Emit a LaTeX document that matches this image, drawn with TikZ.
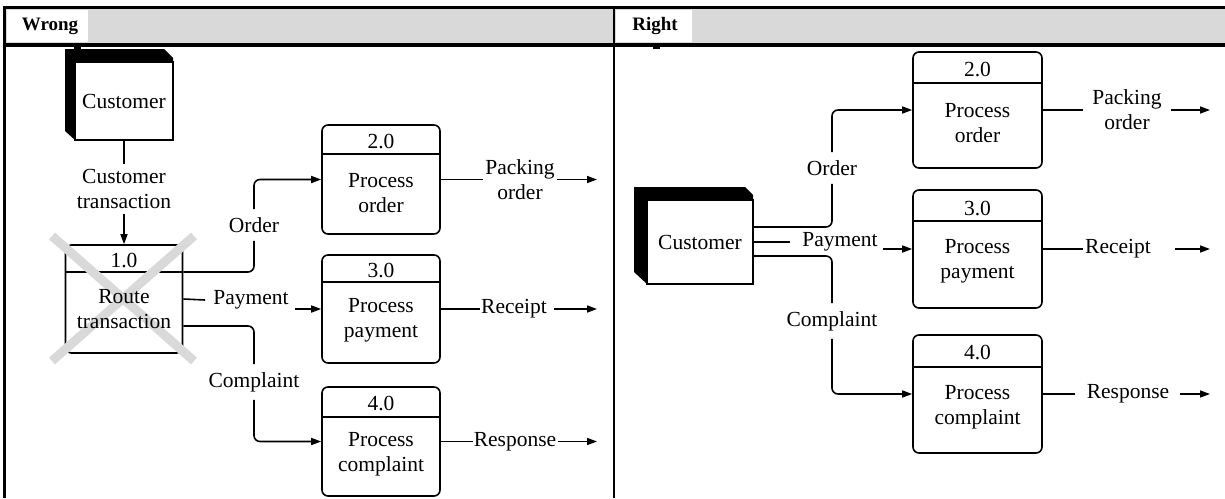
\documentclass[tikz,border=0pt]{standalone}
\usepackage{fontspec}
\setmainfont{Liberation Serif}
\usetikzlibrary{arrows.meta}
\begin{document}
\begin{tikzpicture}[x=1pt,y=-1pt,
  every node/.style={font=\fontsize{21.5}{25}\selectfont, inner sep=0pt},
  proc/.style={draw, line width=1.6pt, rounded corners=6pt, minimum width=118pt, minimum height=108pt},
  ext/.style={draw, line width=1.6pt, fill=white},
  lbl/.style={align=center, inner xsep=0pt, inner ysep=8pt},
  flow/.style={line width=1.6pt},
  arr/.style={flow, -{Triangle[length=10pt,width=7pt]}},
  hdr/.style={font=\fontsize{19}{22}\selectfont\bfseries},
  cross/.style={gray!30, line width=9pt}
]
\useasboundingbox (0,0) rectangle (1225,498);
\fill[white] (0,0) rectangle (1225,498);
% header
\fill[gray!30] (4,9) rectangle (1225,43);
\fill[white] (7,10) rectangle (88,42);
\fill[white] (616,10) rectangle (692,42);
\node[hdr] (wr) at (50,26) {Wrong};
\node[hdr] (rt) at (655,26) {Right};
\draw[line width=3pt] (3,7.5) -- (1225,7.5);
\draw[line width=4pt] (3,45) -- (1225,45);
\draw[line width=3pt] (4.5,6) -- (4.5,498);
\draw[line width=2.5pt] (614,6) -- (614,498);
\fill (74,44) rectangle (81,49);
\fill (653,44) rectangle (660,49);

% ===== Wrong panel =====
\fill (65,49) -- (164,49) -- (173,58) -- (173,62) -- (75,62) -- (75,140) -- (65,131) -- cycle;
\node[ext, minimum width=98pt, minimum height=78pt] (c1) at (124,101) {Customer};
\node[lbl, inner ysep=5pt] (ct) at (124,189) {Customer\\transaction};

\node[proc, minimum width=117pt] (p1) at (124,299) {};
\draw[flow] ([yshift=-28pt]p1.north west) -- ([yshift=-28pt]p1.north east);
% the cross over process 1.0
\draw[cross] (52,236) -- (194,361) (194,236) -- (52,361);
\node (n1) at (124,260) {1.0};
\node[align=center] (t1) at (124,309) {Route\\transaction};

\node[proc, minimum height=109pt] (p2) at (381,179.5) {};
\draw[flow] ([yshift=-30pt]p2.north west) -- ([yshift=-30pt]p2.north east);
\node (n2) at (381,141) {2.0};
\node[align=center] (t2) at (381,193) {Process\\order};

\node[proc] (p3) at (381,309) {};
\draw[flow] ([yshift=-28pt]p3.north west) -- ([yshift=-28pt]p3.north east);
\node (n3) at (381,270) {3.0};
\node[align=center] (t3) at (381,320) {Process\\payment};

\node[proc, minimum height=109pt] (p4) at (381,441.5) {};
\draw[flow] ([yshift=-31pt]p4.north west) -- ([yshift=-31pt]p4.north east);
\node (n4) at (381,403) {4.0};
\node[align=center] (t4) at (381,454) {Process\\complaint};

\node[lbl] (lo) at (254,225) {Order};
\node[lbl] (lpay) at (251,300) {Payment};
\node[lbl] (lc) at (254,382) {Complaint};

\draw[flow] (c1) -- (ct);
\draw[arr] (ct) -- (p1);
\draw[flow, rounded corners=6pt] ([yshift=27pt]p1.east) -| (lo);
\draw[arr, rounded corners=6pt] (lo) |- (p2.west);
\draw[flow] (p1.east) -- ([xshift=-8pt]lpay.west);
\draw[arr] ([xshift=6pt]lpay.east |- p3.west) -- (p3.west);
\draw[flow, rounded corners=6pt] ([yshift=-27pt]p1.east) -| (lc);
\draw[arr, rounded corners=6pt] (lc) |- (p4.west);

% outputs
\node[lbl] (lpk) at (520,179.5) {Packing\\order};
\node[lbl] (lrc) at (514,309) {Receipt};
\node[lbl] (lrs) at (515,441.5) {Response};
\coordinate (e2) at (597,179.5);
\coordinate (e3) at (597,309);
\coordinate (e4) at (597,441.5);
\draw[flow] (p2.east) -- ([xshift=-2pt]lpk.west |- p2.east);
\draw[arr] ([xshift=2pt]lpk.east |- p2.east) -- (e2);
\draw[flow] (p3.east) -- ([xshift=-1pt]lrc.west);
\draw[arr] ([xshift=7pt]lrc.east) -- (e3);
\draw[flow] (p4.east) -- ([xshift=-1pt]lrs.west);
\draw[arr] ([xshift=2pt]lrs.east) -- (e4);

% ===== Right panel =====
\fill (634,187) -- (745,187) -- (753,195) -- (753,200) -- (647,200) -- (647,284) -- (634,272) -- cycle;
\node[ext, minimum width=106pt, minimum height=84pt] (c2) at (700,242) {Customer};

\node[proc, minimum width=129pt, minimum height=116pt] (q2) at (977.5,110) {};
\draw[flow] ([yshift=-32pt]q2.north west) -- ([yshift=-32pt]q2.north east);
\node (m2) at (977.5,70) {2.0};
\node[align=center] (s2) at (977.5,123) {Process\\order};

\node[proc, minimum width=129pt, minimum height=118pt] (q3) at (977.5,249) {};
\draw[flow] ([yshift=-32pt]q3.north west) -- ([yshift=-32pt]q3.north east);
\node (m3) at (977.5,208) {3.0};
\node[align=center] (s3) at (977.5,261) {Process\\payment};

\node[proc, minimum width=129pt, minimum height=118pt] (q4) at (977.5,394) {};
\draw[flow] ([yshift=-33pt]q4.north west) -- ([yshift=-33pt]q4.north east);
\node (m4) at (977.5,352) {4.0};
\node[align=center] (s4) at (977.5,407) {Process\\complaint};

\node[lbl] (lo2) at (832,168) {Order};
\node[lbl] (lp2) at (840,242) {Payment};
\node[lbl] (lc2) at (832,321) {Complaint};

\draw[flow, rounded corners=6pt] ([yshift=15pt]c2.east) -| (lo2);
\draw[arr, rounded corners=6pt] (lo2) |- (q2.west);
\draw[flow] (c2.east) -- ([xshift=-12pt]lp2.west);
\draw[arr] ([xshift=5pt]lp2.east |- q3.west) -- (q3.west);
\draw[flow, rounded corners=6pt] ([yshift=-14pt]c2.east) -| (lc2);
\draw[arr, rounded corners=6pt] (lc2) |- (q4.west);

\node[lbl] (lpk2) at (1127,110) {Packing\\order};
\node[lbl] (lrc2) at (1118,249) {Receipt};
\node[lbl] (lrs2) at (1128,394) {Response};
\coordinate (f2) at (1210,110);
\coordinate (f3) at (1210,249);
\coordinate (f4) at (1210,394);
\draw[flow] (q2.east) -- ([xshift=-9pt]lpk2.west |- q2.east);
\draw[arr] ([xshift=9pt]lpk2.east |- q2.east) -- (f2);
\draw[flow] (q3.east) -- ([xshift=-2pt]lrc2.west);
\draw[arr] ([xshift=24pt]lrc2.east) -- (f3);
\draw[flow] (q4.east) -- ([xshift=-12pt]lrs2.west);
\draw[arr] ([xshift=11pt]lrs2.east) -- (f4);
\end{tikzpicture}
\end{document}
